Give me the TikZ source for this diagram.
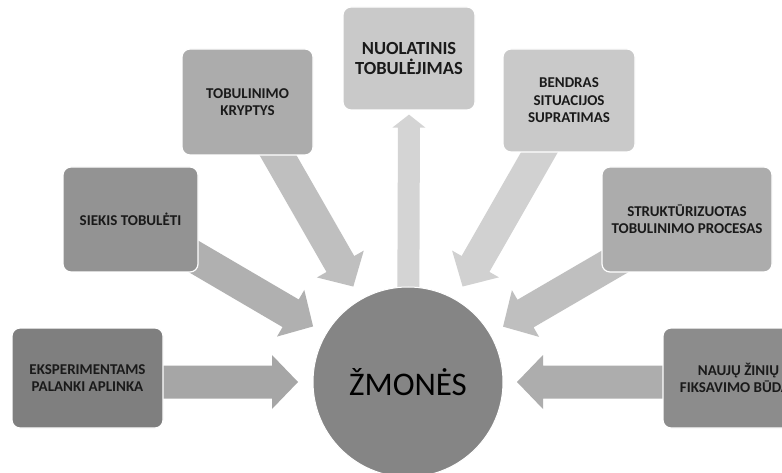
\documentclass[tikz,border=0pt]{standalone}
\usepackage{fontspec}
\setmainfont{Carlito}
\usepackage{tikz}
\usetikzlibrary{calc}
\pgfdeclarelayer{background}
\pgfsetlayers{background,main}

\definecolor{circlegray}{HTML}{858585}
\definecolor{boxA}{HTML}{7F7F7F}
\definecolor{boxB}{HTML}{939393}
\definecolor{boxC}{HTML}{ACACAC}
\definecolor{boxD}{HTML}{C9C9C9}
\definecolor{boxE}{HTML}{8C8C8C}
\definecolor{labeltext}{HTML}{1A1A1A}

% block arrow: colour, from, to, shaft half width, head half width, head length
\newcommand{\blockarrow}[6]{%
  \coordinate (hb) at ($(#3)!#6!(#2)$);
  \fill[#1] ($(#2)!#4!90:(#3)$) -- ($(hb)!#4!90:(#3)$) -- ($(hb)!#5!90:(#3)$)
    -- (#3) -- ($(hb)!#5!-90:(#3)$) -- ($(hb)!#4!-90:(#3)$)
    -- ($(#2)!#4!-90:(#3)$) -- cycle;
}

\tikzset{
  factor/.style={rectangle, rounded corners=8pt, draw=white, line width=1.2pt,
    align=center, text=labeltext, inner sep=2pt,
    font=\bfseries\fontsize{15}{17.5}\selectfont},
}

\begin{document}
\begin{tikzpicture}[x=1pt, y=-1pt]

  \clip (0,0) rectangle (782,473);

  % Centre
  \node[circle, fill=circlegray, draw=white, line width=1pt, minimum size=190pt,
    inner sep=0pt, text=black, font=\fontsize{33}{36}\selectfont]
    (zmones) at (408,382) {ŽMONĖS};

  % Factors round the centre
  \node[factor, fill=boxA, minimum width=151pt, minimum height=100pt]
    (eksp) at (87.5,378) {EKSPERIMENTAMS\\PALANKI APLINKA};
  \node[factor, fill=boxB, minimum width=135pt, minimum height=105pt]
    (siekis) at (130.5,219.5) {SIEKIS TOBULĖTI};
  \node[factor, fill=boxC, minimum width=131pt, minimum height=106pt]
    (kryptys) at (247.5,102) {TOBULINIMO\\KRYPTYS};
  \node[factor, fill=boxD, minimum width=132pt, minimum height=103pt,
    font=\bfseries\fontsize{18.5}{20}\selectfont]
    (nuolat) at (409,58.5) {NUOLATINIS\\TOBULĖJIMAS};
  \node[factor, fill=boxD, minimum width=132pt, minimum height=103pt]
    (bendras) at (569,100.5) {BENDRAS\\SITUACIJOS\\SUPRATIMAS};
  \node[factor, fill=boxC, minimum width=170pt, minimum height=105pt]
    (strukt) at (687,219.5) {STRUKTŪRIZUOTAS\\TOBULINIMO PROCESAS};
  \node[factor, fill=boxE, minimum width=151pt, minimum height=100pt]
    (naujos) at (738.5,378) {NAUJŲ ŽINIŲ\\FIKSAVIMO BŪDAS};

  % Arrow tips
  \coordinate (tipsiekis) at ($(zmones.center)!110pt!(siekis.center)$);
  \coordinate (tipkryptys) at ($(zmones.center)!110pt!(kryptys.center)$);
  \coordinate (tipbendras) at ($(zmones.center)!110pt!(bendras.center)$);
  \coordinate (tipstrukt) at ($(zmones.center)!110pt!(strukt.center)$);
  \coordinate (tipeksp) at ($(zmones.center)+(-110,0)$);
  \coordinate (tipnaujos) at ($(zmones.center)+(109,0)$);
  \coordinate (tipnuolat) at ($(nuolat.south)+(0,4)$);
  \coordinate (starteksp) at (eksp.center |- zmones.center);
  \coordinate (startnaujos) at (naujos.center |- zmones.center);

  % Arrows
  \begin{pgfonlayer}{background}
    \fill[white] (0,0) rectangle (782,473);
    \blockarrow{black!35}{starteksp}{tipeksp}{16.5pt}{27pt}{26pt}
    \blockarrow{black!31}{siekis.center}{tipsiekis}{16pt}{27pt}{26pt}
    \blockarrow{black!25}{kryptys.center}{tipkryptys}{16pt}{27pt}{26pt}
    \blockarrow{black!17}{zmones.center}{tipnuolat}{11pt}{16.5pt}{13pt}
    \blockarrow{black!18}{bendras.center}{tipbendras}{16pt}{27pt}{26pt}
    \blockarrow{black!25}{strukt.center}{tipstrukt}{16pt}{27pt}{26pt}
    \blockarrow{black!32}{startnaujos}{tipnaujos}{16.5pt}{27pt}{26pt}
  \end{pgfonlayer}

\end{tikzpicture}
\end{document}
